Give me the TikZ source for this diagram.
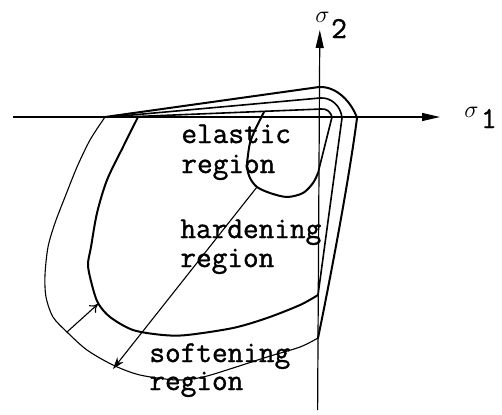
\documentclass[tikz,border=0pt]{standalone}
\usepackage{fontspec}
\newfontfamily\lblfont[FakeBold=1.2]{Latin Modern Mono}
\usetikzlibrary{arrows.meta}
\newcommand{\smallsig}{{\fontsize{13}{13}\selectfont$\sigma$}}
\begin{document}
\begin{tikzpicture}[x=0.5pt,y=-0.5pt,
  heavy/.style={line width=1pt, line join=round, line cap=round},
  medium/.style={line width=0.8pt, line join=round, line cap=round},
  light/.style={line width=0.55pt, line cap=round},
  axisline/.style={line width=0.6pt,-{Triangle[length=9pt,width=4pt]}},
  lbl/.style={font=\lblfont\fontsize{15.2}{15}\selectfont, inner sep=0pt, anchor=base west},
  sig/.style={font=\lblfont\fontsize{15.2}{15}\selectfont, inner sep=0pt, anchor=base west}]
\useasboundingbox (0,0) rectangle (502,414);
% axes
\coordinate (xs) at (13,117);
\coordinate (xe) at (440,117);
\coordinate (ys) at (317.6,410);
\coordinate (ye) at (319.8,30);
\draw[axisline] (xs) -- (xe);
\draw[axisline] (ys) -- (ye);
\node[sig] (s2) at (315,38) {\raisebox{8pt}{\smallsig}\kern0.8pt 2};
\node[sig] (s1) at (464,128) {\raisebox{5.5pt}{\smallsig}\kern1.2pt 1};
% outer (softening) surface
\draw[heavy] (105,117) -- (319,87) .. controls (337,86) and (352,103) .. (357,118)
  .. controls (349,180) and (330,280) .. (318,338);
\draw[light] plot[smooth] coordinates {(318,338) (300,347) (267,357) (233,368) (203,377)
  (177,380) (140,375) (113,365) (87,350) (67,332) (53,317) (46,297) (45,275) (48,247)
  (55,223) (65,197) (77,167) (90,140) (105,117)};
% middle (hardening) surface
\draw[medium] (110,117) -- (320,98) .. controls (331,97) and (341,106) .. (342,118) -- (318,295);
\draw[heavy] plot[smooth] coordinates {(318,295) (300,305) (267,318) (233,328) (187,335)
  (163,335) (133,330) (110,317) (98,303) (92,285) (88,265) (91,247) (97,213) (107,180)
  (123,147) (138,117)};
% inner (elastic) surface
\draw[medium] (125,117) -- (321,109) .. controls (326,108) and (331,112) .. (332,117) -- (318,173);
\draw[heavy] plot[smooth] coordinates {(318,173) (313,183) (303,193) (287,197) (270,193)
  (257,187) (250,178) (247,167) (248,155) (250,143) (255,130) (264,112)};
% arrows
\coordinate (a1s) at (67,332);
\coordinate (a1e) at (98,304);
\draw[light,-{To[length=4pt,width=5pt]}] (a1s) -- (a1e);
\coordinate (a2s) at (257,187);
\coordinate (a2e) at (113,369);
\draw[light,-{Stealth[length=6pt,width=4pt]}] (a2s) -- (a2e);
% labels
\node[lbl] (el1) at (181,143) {elastic};
\node[lbl] (el2) at (181,173) {region};
\node[lbl] (hd1) at (180,238) {hardening};
\node[lbl] (hd2) at (180,267) {region};
\node[lbl] (sf1) at (149,362) {softening};
\node[lbl] (sf2) at (149,390) {region};
\end{tikzpicture}
\end{document}
